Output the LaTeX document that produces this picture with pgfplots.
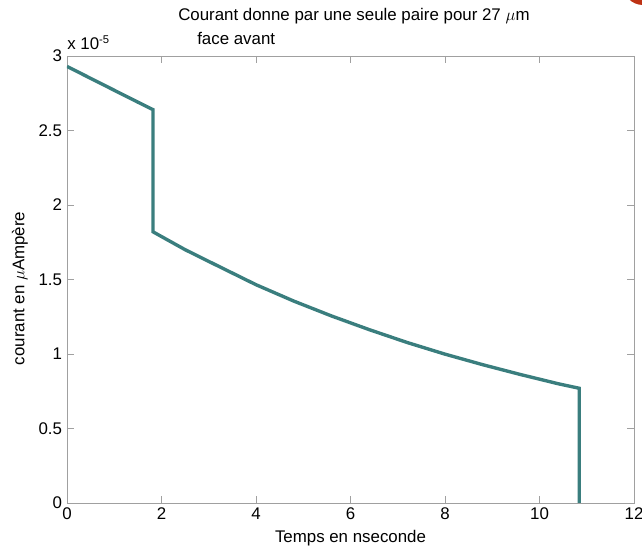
\documentclass[border=0pt]{standalone}
\usepackage{fontspec}
\setmainfont{Liberation Sans}
\usepackage{pgfplots}
\pgfplotsset{compat=1.18}
\definecolor{curve}{RGB}{58,126,126}
\definecolor{frame}{RGB}{160,160,160}
\definecolor{dot}{RGB}{190,50,20}
\begin{document}
\begin{tikzpicture}
\begin{axis}[
  scale only axis, width=14.175cm, height=11.175cm,
  at={(0,0)}, anchor=south west,
  xmin=0, xmax=12, ymin=0, ymax=3e-5,
  xtick={0,2,4,6,8,10,12},
  ytick={0,0.5e-5,1e-5,1.5e-5,2e-5,2.5e-5,3e-5},
  scaled y ticks=base 10:5,
  ytick scale label code/.code={x 10\textsuperscript{#1}},
  every y tick scale label/.style={at={(axis description cs:0,1)}, anchor=base west, yshift=0.15cm, inner sep=0pt, font=\fontsize{12}{14}\selectfont},
  /pgf/number format/assume math mode=true,
  /pgf/number format/fixed,
  /pgf/number format/precision=1,
  tick label style={font=\fontsize{12}{14}\selectfont},
  tick align=inside, major tick length=0.18cm,
  axis line style={frame}, every tick/.style={frame},
  xlabel={Temps en nseconde},
  ylabel={courant en $\mu$Ampère},
  label style={font=\fontsize{12}{14}\selectfont},
  xlabel style={at={(axis description cs:0.5,0)}, anchor=base, yshift=-1.0cm},
  ylabel style={at={(axis description cs:-0.083,0.48)}, anchor=center},
]
\addplot[curve, line width=2.4pt, line join=miter] coordinates {
  (0,2.93e-5) (0.5,2.85e-5) (1.0,2.77e-5) (1.5,2.69e-5) (1.82,2.64e-5)
  (1.82,1.82e-5)
  (2.5,1.70e-5) (3.2,1.59e-5) (4.0,1.465e-5) (4.8,1.355e-5) (5.6,1.255e-5)
  (6.4,1.163e-5) (7.2,1.077e-5) (8.0,0.999e-5) (8.8,0.928e-5)
  (9.6,0.862e-5) (10.4,0.80e-5) (10.84,0.77e-5)
  (10.84,0)
};
\end{axis}
\node[anchor=base west, font=\fontsize{12}{14}\selectfont, inner sep=0pt] at (2.775,12.05) {Courant donne par une seule paire pour 27 $\mu$m};
\node[anchor=base west, font=\fontsize{12}{14}\selectfont, inner sep=0pt] at (3.25,11.45) {face avant};
\fill[dot] (14.4,12.95) circle (0.5cm);
\pgfresetboundingbox
\path[use as bounding box] (-1.675,-1.15) rectangle (14.375,12.575);
\end{tikzpicture}
\end{document}
